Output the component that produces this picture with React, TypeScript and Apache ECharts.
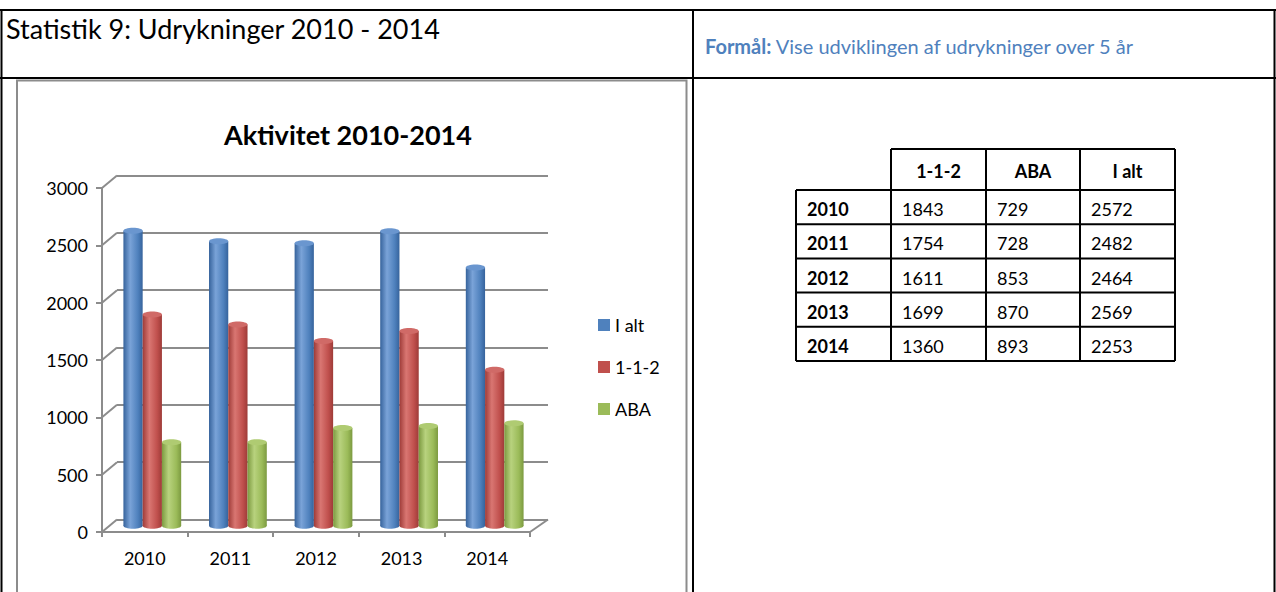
import React, { useEffect, useRef } from "react";
import * as echarts from "echarts";

const years = ["2010", "2011", "2012", "2013", "2014"];
const calls112 = [1843, 1754, 1611, 1699, 1360];
const aba = [729, 728, 853, 870, 893];
const total = [2572, 2482, 2464, 2569, 2253];
const yTicks = [0, 500, 1000, 1500, 2000, 2500, 3000];
const seriesNames = ["I alt", "1-1-2", "ABA"];
const tableHeaders = ["1-1-2", "ABA", "I alt"];

const FONT = "Lato, 'Open Sans', sans-serif";
const GRAY = "#8c8c8c";
const DX = 15;
const DY = -12.5;

const palettes = [
  { base: "#4F81BD", dark: "#36639c", light: "#7aa3d8", cap: "#6a96cf" },
  { base: "#C0504D", dark: "#9e3b38", light: "#d97672", cap: "#d06a67" },
  { base: "#9BBB59", dark: "#7c9a40", light: "#b8d27e", cap: "#afcb72" },
];

function cylinder(slot: number) {
  const p = palettes[slot];
  return (params: any, api: any) => {
    const idx = api.value(0);
    const v = api.value(1);
    const top = api.coord([idx, v]);
    const base = api.coord([idx, 0]);
    const band = api.size([1, 0])[0];
    const w = band * 0.225;
    const cx = top[0] + (slot - 1) * w;
    const ry = 3;
    const grad = () =>
      new echarts.graphic.LinearGradient(0, 0, 1, 0, [
        { offset: 0, color: p.dark },
        { offset: 0.35, color: p.light },
        { offset: 0.75, color: p.base },
        { offset: 1, color: p.dark },
      ]);
    return {
      type: "group",
      children: [
        { type: "ellipse", shape: { cx, cy: base[1], rx: w / 2, ry }, style: { fill: grad() } },
        { type: "rect", shape: { x: cx - w / 2, y: top[1], width: w, height: base[1] - top[1] }, style: { fill: grad() } },
        { type: "ellipse", shape: { cx, cy: top[1], rx: w / 2, ry }, style: { fill: p.cap } },
      ],
    };
  };
}

function buildDocGraphics() {
  const els: any[] = [];
  const line = (x1: number, y1: number, x2: number, y2: number, color = "#000", width = 2) =>
    els.push({ type: "line", shape: { x1, y1, x2, y2 }, style: { stroke: color, lineWidth: width }, silent: true });
  // document table borders
  line(0, 10, 1276, 10);
  line(0, 78, 1276, 78);
  line(1.5, 10, 1.5, 592);
  line(1274.5, 10, 1274.5, 592);
  line(693, 10, 693, 592);
  // chart frame
  els.push({
    type: "rect",
    shape: { x: 17, y: 80.5, width: 669.5, height: 560 },
    style: { fill: "none", stroke: GRAY, lineWidth: 2 },
    silent: true,
  });
  els.push({
    type: "text",
    x: 6,
    y: 28,
    style: { text: "Statistik 9: Udrykninger 2010 - 2014", font: `27px ${FONT}`, fill: "#000", verticalAlign: "middle" },
  });
  els.push({
    type: "text",
    x: 705,
    y: 46,
    style: {
      text: "{b|Formål:} Vise udviklingen af udrykninger over 5 år",
      font: `20px ${FONT}`,
      fill: "#4F81BD",
      verticalAlign: "middle",
      rich: { b: { fontWeight: "bold", fontSize: 20, fontFamily: FONT, fill: "#4F81BD" } },
    },
  });
  // data table
  const colX = [796, 891, 986, 1080, 1175];
  const headerTop = 149;
  const headerBottom = 190;
  const rowH = 34.2;
  const bottom = headerBottom + rowH * years.length;
  line(colX[1], headerTop, colX[4], headerTop);
  for (let r = 0; r <= years.length; r++) {
    const y = headerBottom + rowH * r;
    line(colX[0], y, colX[4], y);
  }
  line(colX[0], headerBottom, colX[0], bottom);
  for (let c = 1; c < colX.length; c++) line(colX[c], headerTop, colX[c], bottom);
  tableHeaders.forEach((h, c) => {
    els.push({
      type: "text",
      x: (colX[c + 1] + colX[c + 2]) / 2,
      y: (headerTop + headerBottom) / 2 + 1,
      style: { text: h, font: `bold 18px ${FONT}`, fill: "#000", align: "center", verticalAlign: "middle" },
    });
  });
  const cols = [calls112, aba, total];
  years.forEach((yr, r) => {
    const cy = headerBottom + rowH * r + rowH / 2 + 2;
    els.push({
      type: "text",
      x: colX[0] + 11,
      y: cy,
      style: { text: yr, font: `bold 18px ${FONT}`, fill: "#000", verticalAlign: "middle" },
    });
    cols.forEach((col, c) => {
      els.push({
        type: "text",
        x: colX[c + 1] + 11,
        y: cy,
        style: { text: String(col[r]), font: `18px ${FONT}`, fill: "#000", verticalAlign: "middle" },
      });
    });
  });
  return els;
}

export default function App() {
  const ref = useRef<HTMLDivElement>(null);
  useEffect(() => {
    if (!ref.current) return;
    const chart = echarts.init(ref.current, undefined, { renderer: "svg" });
    const yMax = yTicks[yTicks.length - 1];
    const yInterval = yTicks[1] - yTicks[0];
    const valueAxisBase = { type: "value", min: yTicks[0], max: yMax, interval: yInterval };
    const data = [total, calls112, aba];
    chart.setOption({
      animation: false,
      backgroundColor: "#fff",
      textStyle: { fontFamily: FONT },
      title: {
        text: "Aktivitet 2010-2014",
        left: 343,
        top: 116,
        textAlign: "center",
        textStyle: { fontFamily: FONT, fontWeight: "bold", fontSize: 27, color: "#000" },
      },
      legend: {
        data: seriesNames,
        orient: "vertical",
        left: 598,
        top: 316,
        padding: 0,
        icon: "rect",
        itemWidth: 12,
        itemHeight: 12,
        itemGap: 24,
        textStyle: { fontFamily: FONT, fontSize: 18, color: "#000" },
      },
      grid: [
        { left: 102, right: 1276 - 530, top: 188, bottom: 592 - 532 },
        { left: 102 + DX, right: 1276 - 548, top: 188 + DY, bottom: 592 - 532 - DY },
        { left: 102 + DX / 2, right: 1276 - 530 - DX / 2, top: 188 + DY / 2, bottom: 592 - 532 - DY / 2 },
      ],
      xAxis: [
        {
          type: "category",
          gridIndex: 0,
          data: years,
          axisLine: { show: true, lineStyle: { color: GRAY, width: 2 } },
          axisTick: { show: true, length: 5, interval: 0, lineStyle: { color: GRAY, width: 2 } },
          axisLabel: { fontFamily: FONT, fontSize: 18, color: "#000", margin: 17 },
        },
        { type: "category", gridIndex: 1, data: years, show: false },
        { type: "category", gridIndex: 2, data: years, show: false },
      ],
      yAxis: [
        {
          ...valueAxisBase,
          gridIndex: 0,
          axisLine: { show: true, lineStyle: { color: GRAY, width: 2 } },
          axisTick: { show: true, length: 6, lineStyle: { color: GRAY, width: 2 } },
          axisLabel: { fontFamily: FONT, fontSize: 18, color: "#000", margin: 14, formatter: (v: number) => String(v) },
          splitLine: { show: false },
        },
        {
          ...valueAxisBase,
          gridIndex: 1,
          axisLine: { show: false },
          axisTick: { show: false },
          axisLabel: { show: false },
          splitLine: { show: true, lineStyle: { color: GRAY, width: 2 } },
        },
        {
          ...valueAxisBase,
          gridIndex: 2,
          show: false,
        },
      ],
      series: [
        {
          type: "custom",
          name: "walls",
          xAxisIndex: 0,
          yAxisIndex: 0,
          silent: true,
          z: 1,
          data: yTicks.map((v) => [0, v]),
          renderItem: (params: any, api: any) => {
            const pt = api.coord([api.value(0), api.value(1)]);
            const band = api.size([1, 0])[0];
            const x = pt[0] - band / 2;
            return {
              type: "line",
              shape: { x1: x, y1: pt[1], x2: x + DX, y2: pt[1] + DY },
              style: { stroke: GRAY, lineWidth: 2 },
            };
          },
        },
        {
          type: "custom",
          name: "floorEdge",
          xAxisIndex: 0,
          yAxisIndex: 0,
          silent: true,
          z: 1,
          data: [[years.length - 1, 0]],
          renderItem: (params: any, api: any) => {
            const pt = api.coord([api.value(0), api.value(1)]);
            const band = api.size([1, 0])[0];
            const x = pt[0] + band / 2;
            return {
              type: "line",
              shape: { x1: x, y1: pt[1], x2: x + DX + 3, y2: pt[1] + DY },
              style: { stroke: GRAY, lineWidth: 2 },
            };
          },
        },
        ...seriesNames.map((name, s) => ({
          type: "custom",
          name,
          xAxisIndex: 2,
          yAxisIndex: 2,
          z: 5,
          itemStyle: { color: palettes[s].base },
          encode: { x: 0, y: 1 },
          data: data[s].map((v, i) => [i, v]),
          renderItem: cylinder(s),
        })),
      ],
      graphic: buildDocGraphics(),
    });
    return () => chart.dispose();
  }, []);
  return <div ref={ref} style={{ position: "fixed", left: 0, top: 0, width: 1276, height: 592 }} />;
}
